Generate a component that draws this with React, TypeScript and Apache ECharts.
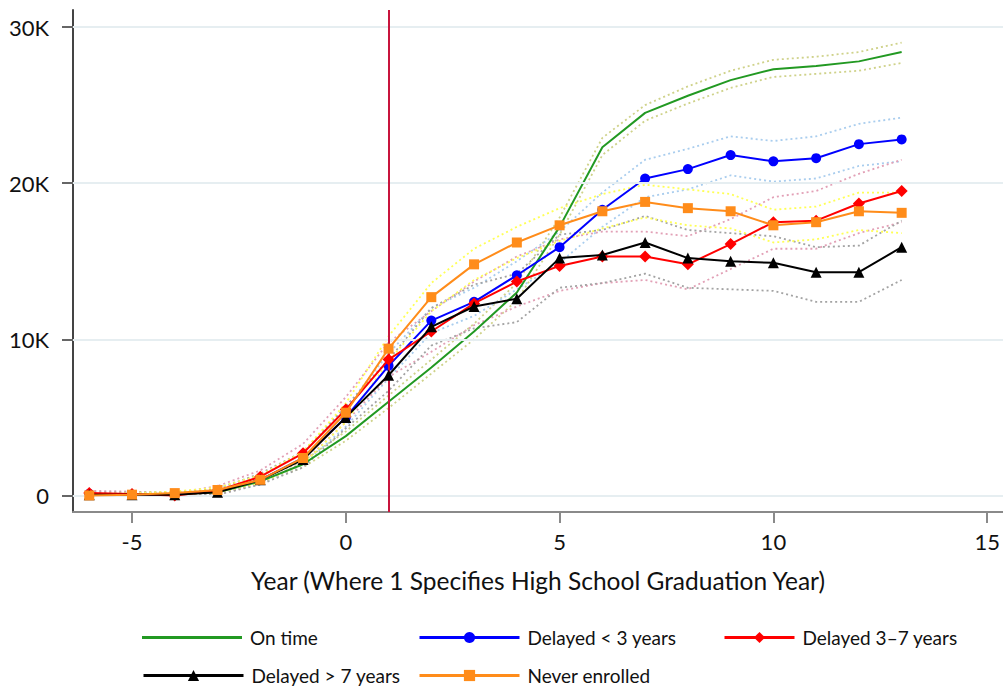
import React, { useEffect, useRef } from "react";
import * as echarts from "echarts";

const years = [-6, -5, -4, -3, -2, -1, 0, 1, 2, 3, 4, 5, 6, 7, 8, 9, 10, 11, 12, 13];

const onTime = [0.0, 0.0, 0.1, 0.2, 0.9, 2.0, 3.8, 6.0, 8.2, 10.5, 13.0, 17.2, 22.3, 24.5, 25.6, 26.6, 27.3, 27.5, 27.8, 28.4];
const onTimeHi = [0.1, 0.1, 0.2, 0.3, 1.0, 2.2, 4.1, 6.4, 8.7, 11.0, 13.6, 17.8, 22.9, 25.0, 26.2, 27.2, 27.9, 28.1, 28.4, 29.0];
const onTimeLo = [0.0, 0.0, 0.0, 0.1, 0.8, 1.8, 3.5, 5.6, 7.8, 10.0, 12.5, 16.7, 21.8, 24.0, 25.1, 26.1, 26.8, 27.0, 27.2, 27.7];

const lt3 = [0.1, 0.05, 0.1, 0.3, 1.0, 2.4, 5.0, 8.3, 11.2, 12.4, 14.1, 15.9, 18.3, 20.3, 20.9, 21.8, 21.4, 21.6, 22.5, 22.8];
const lt3Hi = [0.2, 0.15, 0.2, 0.5, 1.3, 2.8, 5.6, 9.1, 12.0, 13.3, 15.0, 16.9, 19.4, 21.5, 22.2, 23.0, 22.7, 23.0, 23.8, 24.2];
const lt3Lo = [0.0, 0.0, 0.0, 0.1, 0.7, 2.0, 4.4, 7.5, 10.4, 11.5, 13.2, 14.9, 17.2, 19.1, 19.6, 20.5, 20.1, 20.3, 21.1, 21.4];

const d37 = [0.15, 0.1, 0.0, 0.3, 1.2, 2.7, 5.5, 8.7, 10.5, 12.3, 13.7, 14.7, 15.3, 15.3, 14.8, 16.1, 17.5, 17.6, 18.7, 19.5];
const d37Hi = [0.3, 0.25, 0.15, 0.6, 1.6, 3.3, 6.3, 9.8, 11.8, 13.7, 15.3, 16.4, 16.9, 16.9, 16.6, 17.7, 19.1, 19.5, 20.6, 21.5];
const d37Lo = [0.0, 0.0, 0.0, 0.05, 0.8, 2.1, 4.7, 7.6, 9.2, 10.9, 12.1, 13.1, 13.6, 13.8, 13.2, 14.5, 15.8, 15.8, 16.8, 17.5];

const gt7 = [0.05, 0.05, 0.05, 0.2, 1.0, 2.3, 5.0, 7.7, 10.8, 12.1, 12.6, 15.2, 15.4, 16.2, 15.2, 15.0, 14.9, 14.3, 14.3, 15.9];
const gt7Hi = [0.2, 0.2, 0.2, 0.4, 1.4, 2.8, 5.7, 8.7, 12.0, 13.5, 14.2, 16.7, 17.0, 17.9, 17.0, 16.8, 16.6, 15.9, 16.0, 17.6];
const gt7Lo = [0.0, 0.0, 0.0, 0.05, 0.7, 1.8, 4.3, 6.7, 9.6, 10.7, 11.1, 13.3, 13.6, 14.2, 13.3, 13.2, 13.1, 12.4, 12.4, 13.8];

const never = [0.0, 0.05, 0.15, 0.35, 1.0, 2.4, 5.3, 9.4, 12.7, 14.8, 16.2, 17.3, 18.2, 18.8, 18.4, 18.2, 17.3, 17.5, 18.2, 18.1];
const neverHi = [0.1, 0.15, 0.25, 0.5, 1.3, 2.8, 5.9, 10.2, 13.6, 15.8, 17.2, 18.4, 19.3, 19.9, 19.6, 19.3, 18.3, 18.5, 19.4, 19.4];
const neverLo = [0.0, 0.0, 0.05, 0.2, 0.8, 2.0, 4.7, 8.6, 11.8, 13.8, 15.2, 16.3, 17.1, 17.8, 17.3, 17.1, 16.2, 16.4, 17.0, 16.8];

const xTicks = [-5, 0, 5, 10, 15];
const yTicks = [0, 10, 20, 30];
const gradYear = 1;

const names = ["On time", "Delayed < 3 years", "Delayed 3\u20137 years", "Delayed > 7 years", "Never enrolled"];

const FONT = "Lato";

const pair = (vals: number[]) => years.map((y, i) => [y, vals[i]]);

export default function App() {
  const ref = useRef<HTMLDivElement>(null);
  useEffect(() => {
    if (!ref.current) return;
    const chart = echarts.init(ref.current, undefined, { renderer: "svg" });

    const band = (vals: number[], color: string) => ({
      type: "line",
      data: pair(vals),
      showSymbol: false,
      symbol: "none",
      silent: true,
      z: 1,
      lineStyle: { color, width: 1.8, type: [2, 3] },
    });

    const main = (name: string, vals: number[], color: string, symbol: string, size: number, z: number) => ({
      type: "line",
      name,
      data: pair(vals),
      symbol,
      symbolSize: size,
      showSymbol: symbol !== "none",
      z,
      itemStyle: { color },
      lineStyle: { color, width: 2 },
    });

    const legendBase = {
      itemHeight: 14,
      padding: 0,
      textStyle: { fontFamily: FONT, fontSize: 19, color: "#111", padding: [0, 0, 0, 3] },
      lineStyle: { width: 3 },
      selectedMode: false,
    };

    chart.setOption({
      animation: false,
      backgroundColor: "#fff",
      grid: { left: 73, right: 0, top: 10, bottom: 174 },
      legend: [
        { ...legendBase, data: [names[0]], left: 142, top: 628, itemWidth: 100, icon: "rect", itemHeight: 3 },
        { ...legendBase, data: [names[1]], left: 418, top: 628, itemWidth: 100 },
        { ...legendBase, data: [names[2]], left: 723, top: 628, itemWidth: 70 },
        { ...legendBase, data: [names[3]], left: 142, top: 666, itemWidth: 100 },
        { ...legendBase, data: [names[4]], left: 418, top: 666, itemWidth: 100 },
      ],
      xAxis: {
        type: "value",
        min: -6.38,
        max: 15.37,
        name: "Year (Where 1 Specifies High School Graduation Year)",
        nameLocation: "middle",
        nameGap: 56,
        nameTextStyle: { fontFamily: FONT, fontSize: 24.5, color: "#111" },
        axisLine: { show: true, onZero: false, lineStyle: { color: "#8a8a8a", width: 2 } },
        axisTick: { show: true, length: 11, customValues: xTicks, lineStyle: { color: "#8a8a8a", width: 2 } },
        axisLabel: { customValues: xTicks, margin: 18, fontFamily: FONT, fontSize: 22, color: "#111" },
        splitLine: { show: false },
      },
      yAxis: {
        type: "value",
        min: -1.06,
        max: 31.09,
        axisLine: { show: true, onZero: false, lineStyle: { color: "#444", width: 2 } },
        axisTick: { show: true, length: 11, customValues: yTicks, lineStyle: { color: "#666", width: 2 } },
        axisLabel: {
          customValues: yTicks,
          margin: 24,
          fontFamily: FONT,
          fontSize: 22,
          color: "#111",
          formatter: (v: number) => (v === 0 ? "0" : v + "K"),
        },
        splitLine: { show: false },
      },
      series: [
        {
          type: "line",
          data: [],
          silent: true,
          z: 0,
          markLine: {
            silent: true,
            symbol: "none",
            label: { show: false },
            animation: false,
            data: [
              ...yTicks.map((t) => ({ yAxis: t, lineStyle: { color: "#e6eef1", width: 2, type: "solid" } })),
              { xAxis: gradYear, lineStyle: { color: "#c8143c", width: 2, type: "solid" } },
            ],
          },
        },
        band(onTimeHi, "#cfd28a"),
        band(onTimeLo, "#cfd28a"),
        band(lt3Hi, "#a9cdee"),
        band(lt3Lo, "#a9cdee"),
        band(d37Hi, "#e2a0b6"),
        band(d37Lo, "#e2a0b6"),
        band(gt7Hi, "#a3a3a3"),
        band(gt7Lo, "#a3a3a3"),
        band(neverHi, "#ffff55"),
        band(neverLo, "#ffff55"),
        main(names[0], onTime, "#229922", "none", 0, 3),
        main(names[1], lt3, "#0000ff", "circle", 10, 4),
        main(names[2], d37, "#ff0000", "diamond", 12, 5),
        main(names[3], gt7, "#000000", "triangle", 11, 6),
        main(names[4], never, "#ff8c1a", "rect", 10, 7),
      ],
    });
    return () => chart.dispose();
  }, []);
  return <div ref={ref} style={{ position: "fixed", left: 0, top: 0, width: 1003, height: 686 }} />;
}
